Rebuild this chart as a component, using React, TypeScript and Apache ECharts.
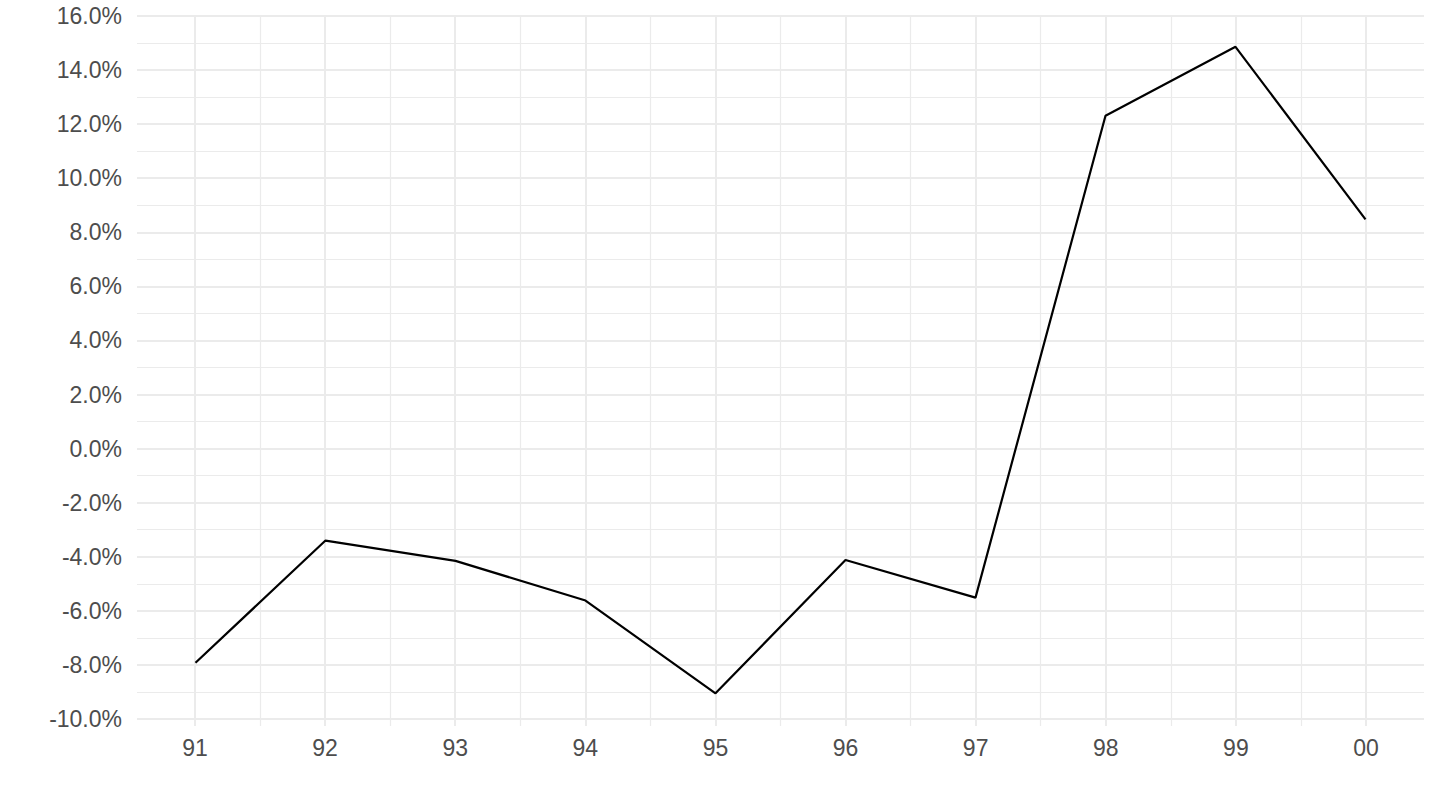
import React, { useEffect, useRef } from 'react';
import * as echarts from 'echarts';

// year labels and yearly change (%)
const years = ['91', '92', '93', '94', '95', '96', '97', '98', '99', '00'];
const values = [-7.92, -3.4, -4.15, -5.62, -9.05, -4.12, -5.51, 12.31, 14.86, 8.48];

const textColor = '#4d4d4d';
const gridColor = '#ebebeb';
const font = '"Liberation Sans", Arial, sans-serif';

const App: React.FC = () => {
  const chartRef = useRef<HTMLDivElement>(null);

  useEffect(() => {
    const chart = echarts.init(chartRef.current!, undefined, { renderer: 'svg' });

    const options = {
      animation: false,
      backgroundColor: '#ffffff',
      grid: [
        // panel for horizontal grid lines + the line itself
        { left: 137, right: 16, top: 16, bottom: 91, containLabel: false },
        // inner grid for vertical lines and year labels
        { left: 195, right: 74, top: 16, bottom: 84, containLabel: false },
      ],
      xAxis: [
        {
          gridIndex: 0,
          type: 'value',
          min: -0.45,
          max: 9.45,
          show: false,
        },
        {
          gridIndex: 1,
          type: 'value',
          min: 0,
          max: 9,
          interval: 1,
          axisLine: { show: false },
          axisTick: { show: false },
          axisLabel: {
            margin: 10,
            color: textColor,
            fontSize: 23,
            fontFamily: font,
            formatter: (v: number) => years[Math.round(v)] ?? '',
          },
          splitLine: { show: true, lineStyle: { color: gridColor, width: 2 } },
          minorTick: { show: false, splitNumber: 2 },
          minorSplitLine: { show: true, lineStyle: { color: gridColor, width: 1.2 } },
        },
      ],
      yAxis: [
        {
          gridIndex: 0,
          type: 'value',
          min: -10,
          max: 16,
          interval: 2,
          axisLine: { show: false },
          axisTick: { show: false },
          axisLabel: {
            margin: 15,
            color: textColor,
            fontSize: 23,
            fontFamily: font,
            formatter: (v: number) => `${v.toFixed(1)}%`,
          },
          splitLine: { show: true, lineStyle: { color: gridColor, width: 2 } },
          minorTick: { show: false, splitNumber: 2 },
          minorSplitLine: { show: true, lineStyle: { color: gridColor, width: 1.2 } },
        },
        {
          gridIndex: 1,
          type: 'value',
          min: -10.26,
          max: 16,
          show: false,
          splitLine: { show: false },
        },
      ],
      series: [
        {
          type: 'line',
          xAxisIndex: 0,
          yAxisIndex: 0,
          data: values.map((v, i) => [i, v]),
          showSymbol: false,
          symbol: 'none',
          lineStyle: { color: '#000000', width: 2.2 },
        },
      ],
    };

    chart.setOption(options);

    return () => {
      chart.dispose();
    };
  }, []);

  return (
    <div
      ref={chartRef}
      style={{ position: 'fixed', left: 0, top: 0, width: '1440px', height: '810px' }}
    />
  );
};

export default App;
